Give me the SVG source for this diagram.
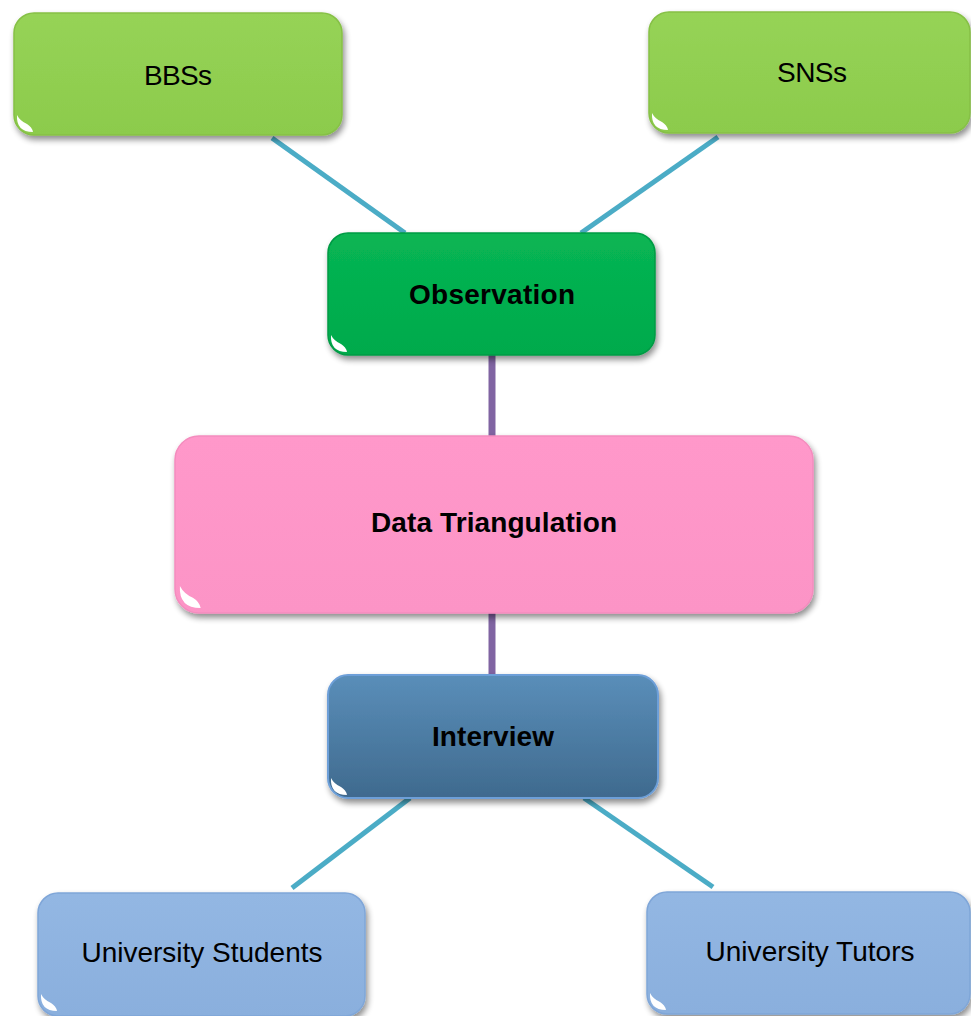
<svg xmlns="http://www.w3.org/2000/svg" width="971" height="1016" viewBox="0 0 971 1016">
  <defs>
    <filter id="shadow" x="-10%" y="-10%" width="125%" height="135%">
      <feGaussianBlur in="SourceAlpha" stdDeviation="3"/>
      <feOffset dx="2" dy="4" result="b"/>
      <feComponentTransfer><feFuncA type="linear" slope="0.45"/></feComponentTransfer>
      <feMerge><feMergeNode/><feMergeNode in="SourceGraphic"/></feMerge>
    </filter>
    <filter id="soft" x="-20%" y="-50%" width="140%" height="200%">
      <feGaussianBlur stdDeviation="1.2"/>
    </filter>
    <linearGradient id="gGreen" x1="0" y1="0" x2="0" y2="1">
      <stop offset="0" stop-color="#96D356"/>
      <stop offset="1" stop-color="#8CCB4C"/>
    </linearGradient>
    <linearGradient id="gObs" x1="0" y1="0" x2="0" y2="1">
      <stop offset="0" stop-color="#08B553"/>
      <stop offset="1" stop-color="#00AA4C"/>
    </linearGradient>
    <linearGradient id="gPink" x1="0" y1="0" x2="0" y2="1">
      <stop offset="0" stop-color="#FF98CA"/>
      <stop offset="1" stop-color="#FC94C6"/>
    </linearGradient>
    <linearGradient id="gInt" x1="0" y1="0" x2="0" y2="1">
      <stop offset="0" stop-color="#5A8EB9"/>
      <stop offset="1" stop-color="#3F6A8E"/>
    </linearGradient>
    <linearGradient id="gLight" x1="0" y1="0" x2="0" y2="1">
      <stop offset="0" stop-color="#93B7E3"/>
      <stop offset="1" stop-color="#8AAFDD"/>
    </linearGradient>
    <!-- white corner glint, anchored at the box's bottom-left corner -->
    <path id="glint" d="M 3 -20 Q 2 -3 19 -3 Q 18 -8 13 -11 Q 6 -14 3 -20 Z" fill="#fff"/>
  </defs>
  <style>
    .lbl { font-family: "Liberation Sans", Arial, sans-serif; font-size: 28px; fill: #000; text-anchor: middle; }
    .b { font-weight: bold; }
    .gloss { fill: none; stroke: #fff; stroke-opacity: 0.75; stroke-width: 5; stroke-linecap: round; }
    .teal { stroke: #4BACC6; stroke-width: 5; fill: none; }
    .purple { stroke: #8064A2; stroke-width: 7; fill: none; }
  </style>

  <rect width="971" height="1016" fill="#fff"/>

  <!-- connectors -->
  <g id="connectors">
    <line class="teal" x1="272" y1="138" x2="405" y2="233"/>
    <line class="teal" x1="718" y1="137" x2="581" y2="233"/>
    <line class="purple" x1="492" y1="355" x2="492" y2="437"/>
    <line class="purple" x1="492" y1="612" x2="492" y2="676"/>
    <line class="teal" x1="410" y1="798" x2="292" y2="888"/>
    <line class="teal" x1="584" y1="798" x2="713" y2="887"/>
  </g>

  <!-- BBSs -->
  <g id="bbss">
    <rect x="14" y="13" width="328" height="122" rx="20" fill="url(#gGreen)" stroke="#86C046" stroke-width="1.5" filter="url(#shadow)"/>
    <line class="gloss" x1="32" y1="22" x2="324" y2="22" filter="url(#soft)"/>
    <line class="gloss" x1="339" y1="30" x2="339" y2="118" filter="url(#soft)"/>
    <use href="#glint" x="14" y="135"/>
    <text class="lbl" x="178" y="85" textLength="68">BBSs</text>
  </g>

  <!-- SNSs -->
  <g id="snss">
    <rect x="649" y="12" width="321" height="121" rx="20" fill="url(#gGreen)" stroke="#86C046" stroke-width="1.5" filter="url(#shadow)"/>
    <line class="gloss" x1="667" y1="21" x2="952" y2="21" filter="url(#soft)"/>
    <use href="#glint" x="649" y="133"/>
    <text class="lbl" x="812" y="82" textLength="70">SNSs</text>
  </g>

  <!-- Observation -->
  <g id="observation">
    <rect x="328" y="233" width="327" height="122" rx="20" fill="url(#gObs)" stroke="#009A44" stroke-width="1.5" filter="url(#shadow)"/>
    <line class="gloss" x1="346" y1="242" x2="637" y2="242" filter="url(#soft)"/>
    <line class="gloss" x1="652" y1="250" x2="652" y2="338" filter="url(#soft)"/>
    <use href="#glint" x="328" y="355"/>
    <text class="lbl b" x="492" y="304" textLength="166">Observation</text>
  </g>

  <!-- Data Triangulation -->
  <g id="data-triangulation">
    <rect x="175" y="436" width="638" height="177" rx="24" fill="url(#gPink)" stroke="#F48CBE" stroke-width="1.5" filter="url(#shadow)"/>
    <line class="gloss" x1="196" y1="445" x2="792" y2="445" filter="url(#soft)"/>
    <line class="gloss" x1="810" y1="456" x2="810" y2="594" filter="url(#soft)"/>
    <line class="gloss" x1="181" y1="465" x2="181" y2="580" filter="url(#soft)"/>
    <use href="#glint" x="176" y="612" transform="translate(176 612) scale(1.3) translate(-176 -612)"/>
    <text class="lbl b" x="494" y="532" textLength="246">Data Triangulation</text>
  </g>

  <!-- Interview -->
  <g id="interview">
    <rect x="328" y="675" width="330" height="123" rx="20" fill="url(#gInt)" stroke="#6D9FD8" stroke-width="2" filter="url(#shadow)"/>
    <line class="gloss" x1="346" y1="685" x2="640" y2="685" filter="url(#soft)"/>
    <line class="gloss" x1="655" y1="692" x2="655" y2="780" filter="url(#soft)"/>
    <use href="#glint" x="328" y="798"/>
    <text class="lbl b" x="493" y="746" textLength="122">Interview</text>
  </g>

  <!-- University Students -->
  <g id="university-students">
    <rect x="38" y="893" width="327" height="123" rx="20" fill="url(#gLight)" stroke="#7FA6D8" stroke-width="1.5" filter="url(#shadow)"/>
    <line class="gloss" x1="56" y1="902" x2="347" y2="902" filter="url(#soft)"/>
    <line class="gloss" x1="362" y1="910" x2="362" y2="1000" filter="url(#soft)"/>
    <use href="#glint" x="38" y="1014"/>
    <text class="lbl" x="202" y="962" textLength="241">University Students</text>
  </g>

  <!-- University Tutors -->
  <g id="university-tutors">
    <rect x="647" y="892" width="323" height="122" rx="20" fill="url(#gLight)" stroke="#7FA6D8" stroke-width="1.5" filter="url(#shadow)"/>
    <line class="gloss" x1="665" y1="901" x2="952" y2="901" filter="url(#soft)"/>
    <use href="#glint" x="647" y="1013"/>
    <text class="lbl" x="810" y="961" textLength="209">University Tutors</text>
  </g>
</svg>
